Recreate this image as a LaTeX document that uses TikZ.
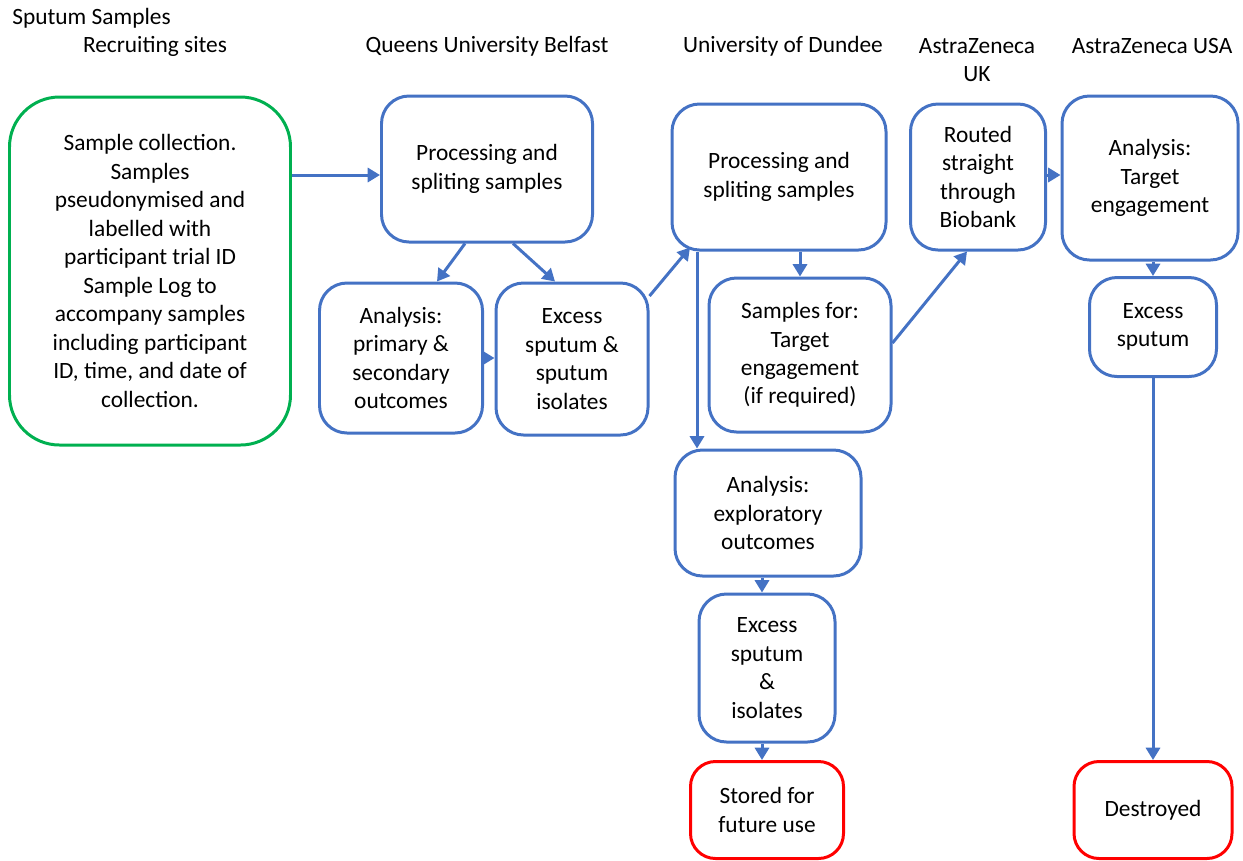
\documentclass[tikz,border=0pt]{standalone}
\usepackage{fontspec}
\setmainfont{Carlito}
\usepackage{xcolor}
\usetikzlibrary{arrows.meta, positioning}

\definecolor{flowblue}{HTML}{4472C4}
\definecolor{flowgreen}{HTML}{00B050}
\definecolor{flowred}{HTML}{FF0000}

\begin{document}
\begin{tikzpicture}[
  x=0.02cm, y=-0.02cm,
  every node/.style={font=\fontsize{13.3}{16.2}\selectfont},
  box/.style={rectangle, draw=flowblue, line width=1.7pt, rounded corners=0.55cm, align=center, inner sep=0pt},
  site/.style={rectangle, draw=flowgreen, line width=1.7pt, rounded corners=1cm, align=center, inner sep=0pt},
  endbox/.style={rectangle, draw=flowred, line width=1.7pt, rounded corners=0.5cm, align=center, inner sep=0pt},
  head/.style={align=center, inner sep=0pt},
  arrow/.style={draw=flowblue, line width=1.7pt, -{Triangle[length=7pt, width=8pt]}}
]
\useasboundingbox (0,0) rectangle (1243,860);

% Column headings
\node (title) [anchor=west, inner sep=0pt] at (12,18) {Sputum Samples};
\node (hsites) [head] at (155,46) {Recruiting sites};
\node (hqub) [head] at (487,46) {Queens University Belfast};
\node (hdundee) [head] at (783,46) {University of Dundee};
\node (hazuk) [head] at (977,60) {AstraZeneca\\UK};
\node (hazusa) [head] at (1152,46) {AstraZeneca USA};

% Recruiting sites
\node (collect) [site, minimum width=281*0.02cm, minimum height=348*0.02cm] at (150,271)
  {Sample collection.\\Samples\\pseudonymised and\\labelled with\\participant trial ID\\Sample Log to\\accompany samples\\including participant\\ID, time, and date of\\collection.};

% Queens University Belfast
\node (qproc) [box, minimum width=211*0.02cm, minimum height=146*0.02cm] at (487,169) {Processing and\\spliting samples};
\node (qanal) [box, minimum width=163*0.02cm, minimum height=150*0.02cm] at (401,358) {Analysis:\\primary \&\\secondary\\outcomes};
\node (qexcess) [box, minimum width=152*0.02cm, minimum height=152*0.02cm] at (572,359) {Excess\\sputum \&\\sputum\\isolates};

% University of Dundee
\node (dproc) [box, minimum width=214*0.02cm, minimum height=146*0.02cm] at (779,177) {Processing and\\spliting samples};
\node (dtarget) [box, minimum width=182*0.02cm, minimum height=154*0.02cm] at (800,355) {Samples for:\\Target\\engagement\\(if required)};
\node (danal) [box, minimum width=186*0.02cm, minimum height=126*0.02cm] at (768,513) {Analysis:\\exploratory\\outcomes};
\node (dexcess) [box, minimum width=136*0.02cm, minimum height=148*0.02cm] at (767,668) {Excess\\sputum\\\&\\isolates};
\node (stored) [endbox, minimum width=153*0.02cm, minimum height=97*0.02cm] at (767,810) {Stored for\\future use};

% AstraZeneca UK and USA
\node (azuk) [box, minimum width=135*0.02cm, minimum height=146*0.02cm] at (978,177) {Routed\\straight\\through\\Biobank};
\node (azusa) [box, minimum width=176*0.02cm, minimum height=164*0.02cm] at (1150,178) {Analysis:\\Target\\engagement};
\node (usexcess) [box, minimum width=127*0.02cm, minimum height=99*0.02cm] at (1153,327) {Excess\\sputum};
\node (destroyed) [endbox, minimum width=158*0.02cm, minimum height=97*0.02cm] at (1153,810) {Destroyed};

% Arrows
\coordinate (sendout) at (collect.east |- 0,175);
\coordinate (dsplit) at ([xshift=-82*0.02cm]dproc.south);
\coordinate (dstore) at ([xshift=-5*0.02cm]dexcess.south);
\draw [arrow] (sendout) -- (qproc.west |- sendout);
\draw [arrow] ([xshift=-22*0.02cm]qproc.south) -- ([xshift=36*0.02cm]qanal.north);
\draw [arrow] ([xshift=26*0.02cm]qproc.south) -- ([xshift=-17*0.02cm]qexcess.north);
\draw [arrow] (qanal.east) -- (qexcess.west |- qanal.east);
\draw [arrow] ([yshift=63*0.02cm]qexcess.east) -- ([xshift=-89*0.02cm, yshift=4*0.02cm]dproc.south);
\draw [arrow] (dsplit) -- (danal.north -| dsplit);
\draw [arrow] ([xshift=21*0.02cm]dproc.south) -- (dtarget.north);
\draw [arrow] ([yshift=12*0.02cm]dtarget.east) -- ([xshift=-11*0.02cm]azuk.south);
\draw [arrow] (azuk.east |- 0,175) -- (azusa.west |- 0,175);
\draw [arrow] (azusa.south -| usexcess.north) -- (usexcess.north);
\draw [arrow] (usexcess.south) -- (destroyed.north);
\draw [arrow] ([xshift=-6*0.02cm]danal.south) -- ([xshift=-5*0.02cm]dexcess.north);
\draw [arrow] (dstore) -- (stored.north -| dstore);
\end{tikzpicture}
\end{document}
